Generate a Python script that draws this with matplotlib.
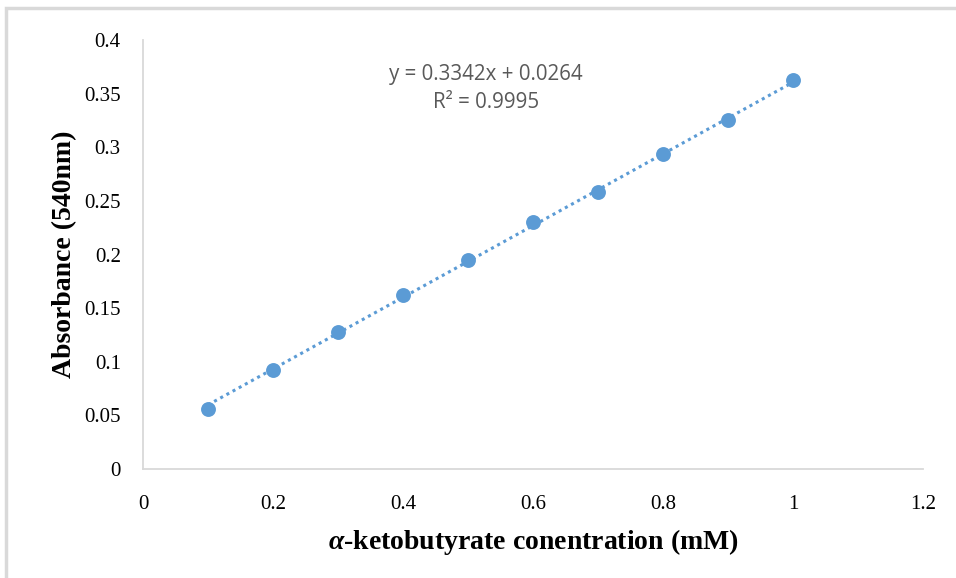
import numpy as np
import matplotlib.pyplot as plt
from matplotlib.patches import Rectangle

# data
conc = [0.1, 0.2, 0.3, 0.4, 0.5, 0.6, 0.7, 0.8, 0.9, 1.0]
absorb = [0.056, 0.092, 0.128, 0.162, 0.195, 0.230, 0.258, 0.294, 0.325, 0.363]
slope = 0.3342
intercept = 0.0264
xticks = [0, 0.2, 0.4, 0.6, 0.8, 1, 1.2]
xtick_labels = ['0', '0.2', '0.4', '0.6', '0.8', '1', '1.2']
yticks = [0, 0.05, 0.1, 0.15, 0.2, 0.25, 0.3, 0.35, 0.4]
ytick_labels = ['0', '0.05', '0.1', '0.15', '0.2', '0.25', '0.3', '0.35', '0.4']

plt.rcParams['mathtext.fontset'] = 'custom'
plt.rcParams['mathtext.it'] = 'Liberation Serif:italic:bold'

W, H = 956, 578
fig = plt.figure(figsize=(W / 100, H / 100), dpi=100)
ax = fig.add_axes([143 / W, 1 - 469 / H, (923 - 143) / W, (469 - 40) / H])

# outer chart border (only top and left visible in the crop)
fig.patches.append(Rectangle((6 / W, -0.1), 2, 1 - 8 / H + 0.1, transform=fig.transFigure,
                             fill=False, edgecolor='#d9d9d9', linewidth=2.5))

blue = '#5b9bd5'
xfit = np.array([min(conc), max(conc)])
ax.plot(xfit, slope * xfit + intercept, color=blue, linestyle=(0, (1, 1.3)), linewidth=2.2, zorder=2)
ax.scatter(conc, absorb, s=115, color=blue, zorder=3, linewidths=0)

ax.set_xlim(0, 1.2)
ax.set_ylim(0, 0.4)
ax.set_xticks(xticks)
ax.set_xticklabels(xtick_labels)
ax.set_yticks(yticks)
ax.set_yticklabels(ytick_labels)
for lbl in ax.get_xticklabels() + ax.get_yticklabels():
    lbl.set_fontfamily('Liberation Serif')
    lbl.set_fontsize(15)
ax.tick_params(axis='y', length=0, pad=16)
ax.tick_params(axis='x', length=0, pad=19)

for s in ['top', 'right']:
    ax.spines[s].set_visible(False)
for s in ['left', 'bottom']:
    ax.spines[s].set_color('#d9d9d9')
    ax.spines[s].set_linewidth(1.3)

ax.set_xlabel(r'$\alpha$-ketobutyrate conentration (mM)', fontfamily='Liberation Serif',
              fontsize=20, fontweight='bold', labelpad=9)
ax.set_ylabel('Absorbance (540nm)', fontfamily='Liberation Serif', fontsize=20,
              fontweight='bold', labelpad=5)

ax.text(0.528, 0.355, f'y = {slope}x + {intercept}\nR² = 0.9995', ha='center', va='center',
        fontfamily='Open Sans', fontsize=14.8, color='#595959', linespacing=1.45)

fig.savefig('out.png', dpi=100)
